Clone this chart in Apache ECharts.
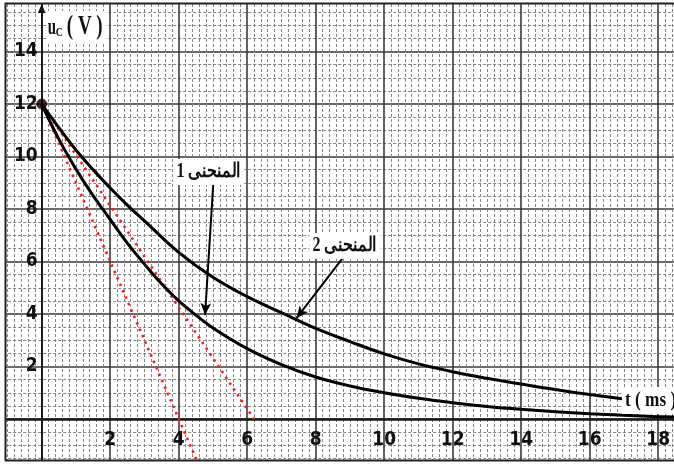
<!DOCTYPE html>
<html>
<head>
<meta charset="utf-8">
<script src="https://cdn.jsdelivr.net/npm/echarts@6/dist/echarts.min.js"></script>
<style>
html,body{margin:0;padding:0;background:#fff;}
#chart{width:674px;height:466px;}
</style>
</head>
<body>
<div id="chart"></div>
<script>
// ---- data ----
const X_TICKS = [2, 4, 6, 8, 10, 12, 14, 16, 18];
const Y_TICKS = [2, 4, 6, 8, 10, 12, 14];

// curve 1 (المنحنى 1) : t in ms, uC in V
const T1 = [0, 0.5, 1, 1.5, 2, 2.5, 3, 3.5, 4, 4.5, 5, 6, 7, 8, 9, 10, 11, 12, 13, 14, 15, 16, 17, 18, 18.5];
const U1 = [12, 10.66, 9.52, 8.51, 7.6, 6.7, 5.9, 5.15, 4.5, 3.96, 3.47, 2.68, 2.07, 1.6, 1.26, 1.0, 0.79, 0.62, 0.48, 0.37, 0.28, 0.2, 0.14, 0.09, 0.07];

// curve 2 (المنحنى 2)
const T2 = [0, 0.5, 1, 1.5, 2, 2.5, 3, 4, 5, 6, 7, 8, 9, 10, 11, 12, 13, 14, 15, 16, 17];
const U2 = [12, 11.1, 10.25, 9.5, 8.8, 8.15, 7.55, 6.35, 5.4, 4.66, 4.05, 3.45, 2.95, 2.48, 2.1, 1.8, 1.55, 1.33, 1.12, 0.93, 0.76];

// tangents at t = 0 (red dotted)
const TAN1_T = [0, 4.52];
const TAN1_U = [12, -1.55];
const TAN2_T = [0, 6.2];
const TAN2_U = [12, 0];

// starting point
const START_T = [0];
const START_U = [12];

// annotations
const LABEL_TEXT = ['المنحنى 1', 'المنحنى 2'];
const LABEL_T = [4.88, 8.85];
const LABEL_U = [9.41, 6.59];
const ARROW_FROM_T = [5.01, 8.86];
const ARROW_FROM_U = [8.98, 6.25];
const ARROW_TO_T = [4.77, 7.44];
const ARROW_TO_U = [3.96, 3.84];

const zip = (a, b) => a.map((v, i) => [v, b[i]]);

const NUM_FONT = "'Liberation Sans Narrow', 'Arial Narrow', 'DejaVu Sans Condensed', sans-serif";
const SERIF = "'Liberation Serif', 'Times New Roman', 'DejaVu Serif', serif";

const chart = echarts.init(document.getElementById('chart'), null, {renderer: 'canvas'});

const arrowLine = (i) => ({
  silent: true,
  symbol: ['none', 'arrow'],
  symbolSize: [8, 12],
  label: {show: false},
  emphasis: {disabled: true},
  lineStyle: {color: '#000', width: 2, type: 'solid'},
  data: [[{coord: [ARROW_FROM_T[i], ARROW_FROM_U[i]]}, {coord: [ARROW_TO_T[i], ARROW_TO_U[i]]}]]
});

const labelStyle = {fontFamily: NUM_FONT, fontSize: 19, fontWeight: 'bold', color: '#111'};
const tangentStyle = {color: '#ff1a1a', width: 2.6, type: [2.5, 4.5]};

const option = {
  animation: false,
  backgroundColor: '#fff',
  grid: [
    // graph paper + data (extends past the frame on every side)
    {left: -26.8, right: -52.7, top: -1, bottom: -5.5, containLabel: false, outerBoundsMode: 'none'},
    // tick labels, with its bottom-left corner on the origin
    {left: 41.7, right: -52.7, top: -1, bottom: 47, containLabel: false, outerBoundsMode: 'none'}
  ],
  xAxis: [
    {
      gridIndex: 0, type: 'value', min: -2, max: 20, interval: 2,
      axisLine: {onZero: true, lineStyle: {color: '#1a1a1a', width: 2.5}},
      axisTick: {show: false},
      axisLabel: {show: false},
      splitLine: {show: true, lineStyle: {color: '#3a3a3a', width: 1.6}},
      minorTick: {show: false, splitNumber: 10},
      minorSplitLine: {show: true, lineStyle: {color: '#858585', width: 1, type: [3, 2]}}
    },
    {
      gridIndex: 1, type: 'value', min: 0, max: 20, interval: 2, position: 'bottom',
      axisLine: {show: false}, axisTick: {show: false}, splitLine: {show: false},
      axisLabel: Object.assign({formatter: v => X_TICKS.includes(v) ? String(v) : '', margin: 12}, labelStyle)
    }
  ],
  yAxis: [
    {
      gridIndex: 0, type: 'value', min: -2, max: 16, interval: 2,
      axisLine: {onZero: true, lineStyle: {color: '#1a1a1a', width: 2}},
      axisTick: {show: false},
      axisLabel: {show: false},
      splitLine: {show: true, lineStyle: {color: '#3a3a3a', width: 1.6}},
      minorTick: {show: false, splitNumber: 4},
      minorSplitLine: {show: true, lineStyle: {color: '#858585', width: 1, type: [3, 2]}}
    },
    {
      gridIndex: 1, type: 'value', min: 0, max: 16, interval: 2, position: 'left',
      axisLine: {show: false}, axisTick: {show: false}, splitLine: {show: false},
      axisLabel: Object.assign({formatter: v => Y_TICKS.includes(v) ? String(v) : '', margin: 4, padding: [8, 0, 0, 0]}, labelStyle)
    }
  ],
  series: [
    {
      name: 'tangent1', type: 'line', data: zip(TAN1_T, TAN1_U), symbol: 'none', silent: true,
      lineStyle: tangentStyle, z: 3
    },
    {
      name: 'tangent2', type: 'line', data: zip(TAN2_T, TAN2_U), symbol: 'none', silent: true,
      lineStyle: tangentStyle, z: 3
    },
    {
      name: 'curve1', type: 'line', data: zip(T1, U1), symbol: 'none', smooth: 0.4, silent: true,
      lineStyle: {color: '#000', width: 3}, z: 4, markLine: arrowLine(0)
    },
    {
      name: 'curve2', type: 'line', data: zip(T2, U2), symbol: 'none', smooth: 0.4, silent: true,
      lineStyle: {color: '#000', width: 3}, z: 4, markLine: arrowLine(1)
    },
    {
      name: 'start', type: 'scatter', data: zip(START_T, START_U), symbolSize: 10, silent: true,
      itemStyle: {color: '#000', borderColor: '#5a0000', borderWidth: 1}, z: 6
    }
  ]
};
chart.setOption(option);

const P = (t, u) => chart.convertToPixel({gridIndex: 0}, [t, u]);
const o = P(0, 0);
const uAnchor = P(0.18, 14.9);
const tAnchor = P(17.03, 0.72);

const graphics = [];
// white margins and frame
graphics.push({type: 'rect', z: 100, silent: true, shape: {x: 0, y: 0, width: 674, height: 3}, style: {fill: '#fff'}});
graphics.push({type: 'rect', z: 100, silent: true, shape: {x: 0, y: 0, width: 5, height: 466}, style: {fill: '#fff'}});
graphics.push({type: 'rect', z: 100, silent: true, shape: {x: 0, y: 461, width: 674, height: 5}, style: {fill: '#fff'}});
graphics.push({type: 'polyline', z: 101, silent: true, shape: {points: [[674, 3.5], [5.5, 3.5], [5.5, 460.5], [674, 460.5]]}, style: {stroke: '#222', lineWidth: 2, fill: null}});
// y axis arrow head
graphics.push({type: 'polygon', z: 102, silent: true, shape: {points: [[o[0], 4], [o[0] - 3.8, 13], [o[0] + 3.8, 13]]}, style: {fill: '#111'}});

// u_C ( V ) title
graphics.push({
  type: 'group', z: 105, x: uAnchor[0], y: uAnchor[1],
  children: [
    {type: 'rect', z: 105, shape: {x: -2, y: -17, width: 60, height: 31}, style: {fill: '#fff'}},
    {type: 'text', z: 106, x: 0, y: 0, scaleX: 0.62, style: {text: 'u', fontFamily: SERIF, fontWeight: 'bold', fontSize: 24, fill: '#111', align: 'left', verticalAlign: 'middle'}},
    {type: 'text', z: 106, x: 8, y: 5, scaleX: 0.75, style: {text: 'C', fontFamily: SERIF, fontWeight: 'bold', fontSize: 13, fill: '#111', align: 'left', verticalAlign: 'middle'}},
    {type: 'text', z: 106, x: 19, y: -1, scaleX: 0.7, style: {text: '( V )', fontFamily: SERIF, fontWeight: 'bold', fontSize: 27, fill: '#111', align: 'left', verticalAlign: 'middle'}}
  ]
});

// t ( ms ) title
graphics.push({
  type: 'group', z: 105, x: tAnchor[0], y: tAnchor[1],
  children: [
    {type: 'rect', z: 105, shape: {x: -3, y: -13, width: 60, height: 27}, style: {fill: '#fff'}},
    {type: 'text', z: 106, x: 0, y: 0, scaleX: 0.82, style: {text: 't ( ms )', fontFamily: SERIF, fontWeight: 'bold', fontSize: 21, fill: '#111', align: 'left', verticalAlign: 'middle'}}
  ]
});

// curve labels
LABEL_TEXT.forEach((txt, i) => {
  const p = P(LABEL_T[i], LABEL_U[i]);
  graphics.push({
    type: 'text', z: 106, x: p[0], y: p[1], scaleX: 0.8,
    style: {
      text: txt, fontFamily: SERIF, fontWeight: 'bold', fontSize: 20, fill: '#111',
      align: 'center', verticalAlign: 'middle', backgroundColor: '#fff', padding: [3, 4, 3, 4]
    }
  });
});

chart.setOption({graphic: graphics});
</script>
</body>
</html>
